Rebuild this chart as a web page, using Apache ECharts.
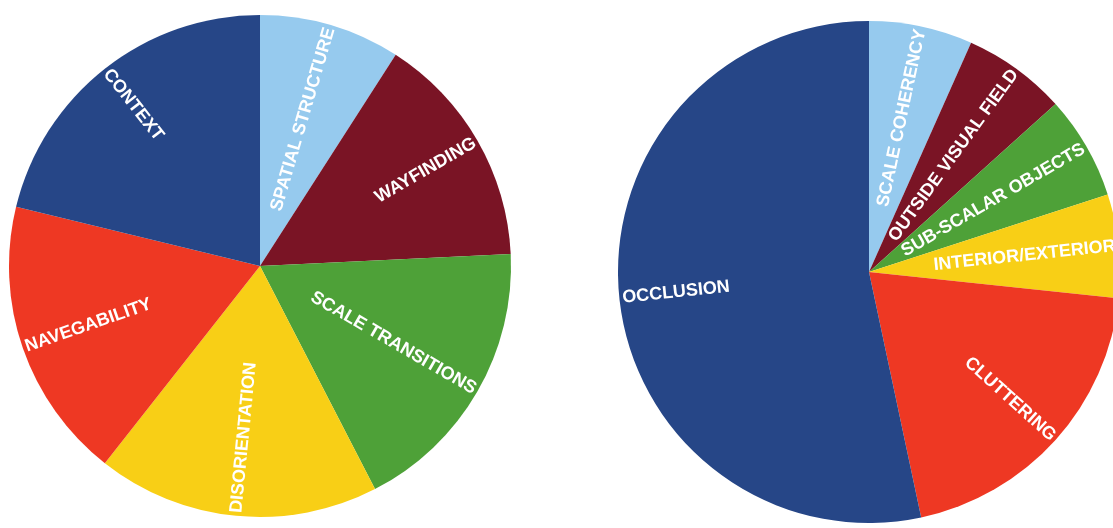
<!DOCTYPE html>
<html>
<head>
<meta charset="utf-8">
<title>Pie charts</title>
<script src="https://cdn.jsdelivr.net/npm/echarts@6/dist/echarts.min.js"></script>
<style>
  html, body { margin: 0; padding: 0; background: #ffffff; }
  #chart { width: 1113px; height: 528px; }
</style>
</head>
<body>
<div id="chart"></div>
<script>
// Issue categories and counts, listed clockwise from twelve o'clock
const leftCategories = ['SPATIAL STRUCTURE', 'WAYFINDING', 'SCALE TRANSITIONS', 'DISORIENTATION', 'NAVEGABILITY', 'CONTEXT'];
const leftValues = [3, 5, 6, 6, 6, 7];

const rightCategories = ['SCALE COHERENCY', 'OUTSIDE VISUAL FIELD', 'SUB-SCALAR OBJECTS', 'INTERIOR/EXTERIOR', 'CLUTTERING', 'OCCLUSION'];
const rightValues = [1, 1, 1, 1, 3, 8];

// Slice palette (same order for both pies)
const palette = ['#96caee', '#7a1425', '#4ea138', '#f8cf16', '#ee3823', '#264687'];

// Pie geometry (pixels)
const pies = [
  { cx: 260, cy: 266, r: 251 },
  { cx: 869, cy: 272, r: 251 }
];
const EDGE_PAD = 3;

const chart = echarts.init(document.getElementById('chart'), null, { renderer: 'canvas' });

function buildData(cats, vals) {
  return cats.map((name, i) => ({ name: name, value: vals[i], itemStyle: { color: palette[i] } }));
}

// Mid-angle (radians, clockwise from 12 o'clock) of each slice, from the values
function midAngles(vals) {
  const total = vals.reduce((a, b) => a + b, 0);
  let cum = 0;
  return vals.map(v => {
    const mid = (cum + v / 2) / total * Math.PI * 2;
    cum += v;
    return mid;
  });
}

const allValues = [leftValues, rightValues];
const allMids = allValues.map(midAngles);

// Radial labels pinned to the outer rim of each slice
function rimLabelLayout(seriesIdx) {
  return function (params) {
    const g = pies[seriesIdx];
    const t = allMids[seriesIdx][params.dataIndex];
    const s = Math.sin(t), c = Math.cos(t);
    const rr = g.r - EDGE_PAD;
    return {
      x: g.cx + rr * s,
      y: g.cy - rr * c,
      align: s > 1e-6 ? 'right' : 'left'
    };
  };
}

function pieSeries(idx, cats, vals) {
  const g = pies[idx];
  return {
    type: 'pie',
    center: [g.cx, g.cy],
    radius: [0, g.r],
    startAngle: 90,
    clockwise: true,
    avoidLabelOverlap: false,
    animation: false,
    silent: true,
    itemStyle: { borderWidth: 0 },
    label: {
      show: true,
      position: 'inside',
      rotate: 'radial',
      color: '#ffffff',
      fontFamily: '"Liberation Sans", Arial, sans-serif',
      fontWeight: 'bold',
      fontSize: 18,
      formatter: '{b}'
    },
    labelLine: { show: false },
    emphasis: { disabled: true },
    labelLayout: rimLabelLayout(idx),
    data: buildData(cats, vals)
  };
}

chart.setOption({
  backgroundColor: '#ffffff',
  animation: false,
  series: [
    pieSeries(0, leftCategories, leftValues),
    pieSeries(1, rightCategories, rightValues)
  ]
});
</script>
</body>
</html>
